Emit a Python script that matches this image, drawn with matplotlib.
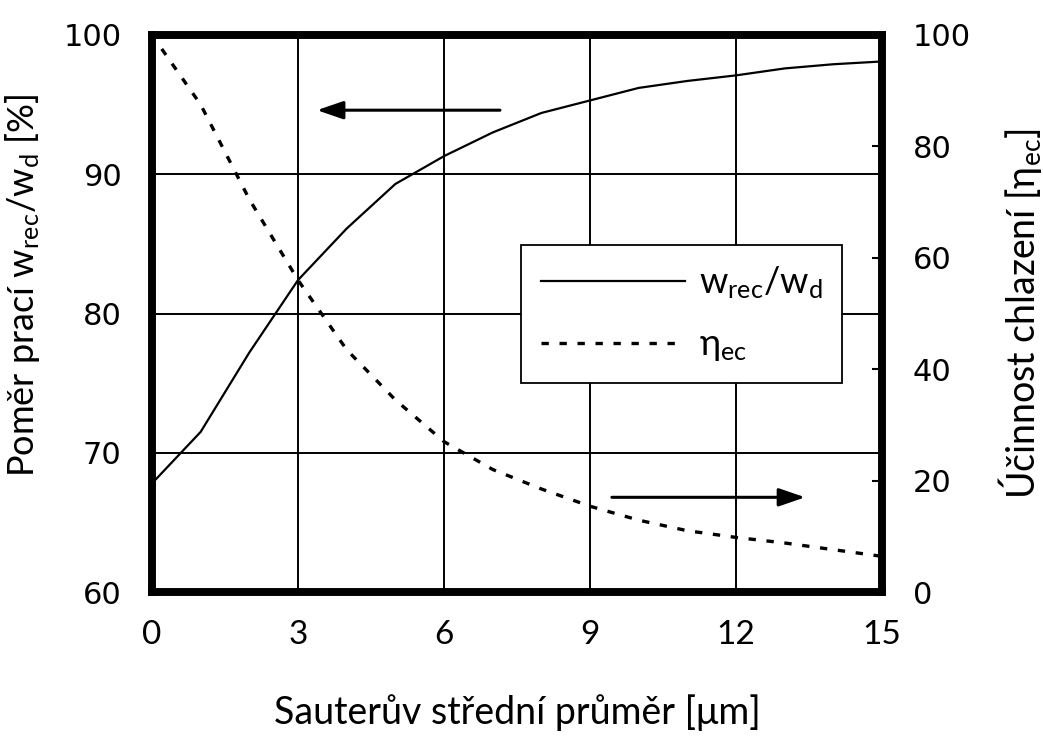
import numpy as np
import matplotlib
matplotlib.use("Agg")
import matplotlib.pyplot as plt
from matplotlib.lines import Line2D

# Sauter mean diameter [um]
diameter = [0, 1, 2, 3, 4, 5, 6, 7, 8, 9, 10, 11, 12, 13, 14, 15]
# work ratio w_rec/w_d [%] (left axis)
work_ratio = [67.8, 71.5, 77.2, 82.4, 86.1, 89.3, 91.3, 93.0, 94.4, 95.3,
              96.2, 96.7, 97.1, 97.6, 97.9, 98.1]

# cooling efficiency eta_ec (right axis)
diameter_eta = [0.2, 1, 2, 3, 4, 5, 6, 7, 8, 9, 10, 11, 12, 13, 14, 15]
cooling_eff = [97.5, 87.5, 70.5, 56.0, 43.5, 34.5, 27.0, 22.0, 18.5, 15.4,
               12.9, 11.0, 9.8, 8.8, 7.6, 6.4]

x_ticks = [0, 3, 6, 9, 12, 15]
left_ticks = [60, 70, 80, 90, 100]
right_ticks = [0, 20, 40, 60, 80, 100]

plt.rcParams["mathtext.fontset"] = "custom"
plt.rcParams["mathtext.rm"] = "Lato"
plt.rcParams["mathtext.it"] = "Lato"

LBL = "Lato"
NUM = "DejaVu Sans"

fig = plt.figure(figsize=(10.43, 7.38), dpi=100)
ax = fig.add_axes([152 / 1043, 1 - 592 / 738, 730 / 1043, 557 / 738])
ax2 = ax.twinx()

ax.plot(diameter, work_ratio, color="black", lw=1.6, zorder=3)
ax2.plot(diameter_eta, cooling_eff, color="black", lw=2.4,
         linestyle=(0, (2.2, 3.2)), zorder=3)

ax.set_xlim(0, 15)
ax.set_ylim(60, 100)
ax2.set_ylim(0, 100)

ax.set_xticks(x_ticks)
ax.set_xticklabels([str(v) for v in x_ticks], fontsize=24, family=LBL)
ax.set_yticks(left_ticks)
ax.set_yticklabels([str(v) for v in left_ticks], fontsize=22, family=NUM)
ax2.set_yticks(right_ticks)
ax2.set_yticklabels([str(v) for v in right_ticks], fontsize=22, family=NUM)

ax.tick_params(axis="y", length=0, pad=22)
ax.tick_params(axis="x", length=0, pad=20)
ax2.tick_params(axis="y", direction="in", length=7, width=1.5, pad=22)

ax.grid(True, color="black", lw=1.4)
ax.set_axisbelow(True)

for a in (ax, ax2):
    for s in a.spines.values():
        s.set_linewidth(5.5)
        s.set_color("black")

ax.set_xlabel("Sauterův střední průměr [μm]", fontsize=27, family=LBL,
              labelpad=32)
ax.set_ylabel(r"Poměr prací $\mathregular{w_{rec}/w_{d}}$ [%]", fontsize=26,
              family=LBL)
ax2.set_ylabel(r"Účinnost chlazení [$\mathregular{\eta_{ec}}$]", fontsize=27,
               family=LBL, labelpad=18)
ax.yaxis.set_label_coords(-0.150, 0.55)

# arrows showing which axis belongs to which curve
ax.annotate("", xy=(3.39, 94.6), xytext=(7.15, 94.6),
            arrowprops=dict(arrowstyle="-|>,head_length=1.6,head_width=0.55",
                            color="black", lw=2.2, shrinkA=0, shrinkB=0))
ax.annotate("", xy=(13.42, 66.8), xytext=(9.45, 66.8),
            arrowprops=dict(arrowstyle="-|>,head_length=1.6,head_width=0.55",
                            color="black", lw=2.2, shrinkA=0, shrinkB=0))

handles = [
    Line2D([], [], color="black", lw=1.6),
    Line2D([], [], color="black", lw=2.4, linestyle=(0, (2.2, 3.2))),
]
labels = [r"$\mathregular{w_{rec}/w_{d}}$", r"$\mathregular{\eta_{ec}}$"]
leg = ax2.legend(handles, labels, loc="lower left",
                 bbox_to_anchor=(0.505, 0.375, 0.44, 0.26), mode="expand",
                 prop={"family": LBL, "size": 26}, handlelength=4.0,
                 frameon=True, fancybox=False, borderpad=0.55,
                 labelspacing=0.75, handletextpad=0.4, borderaxespad=0)
leg.get_frame().set_edgecolor("black")
leg.get_frame().set_linewidth(1.3)
leg.get_frame().set_alpha(1)

fig.savefig("out.png", dpi=100, facecolor="white")
